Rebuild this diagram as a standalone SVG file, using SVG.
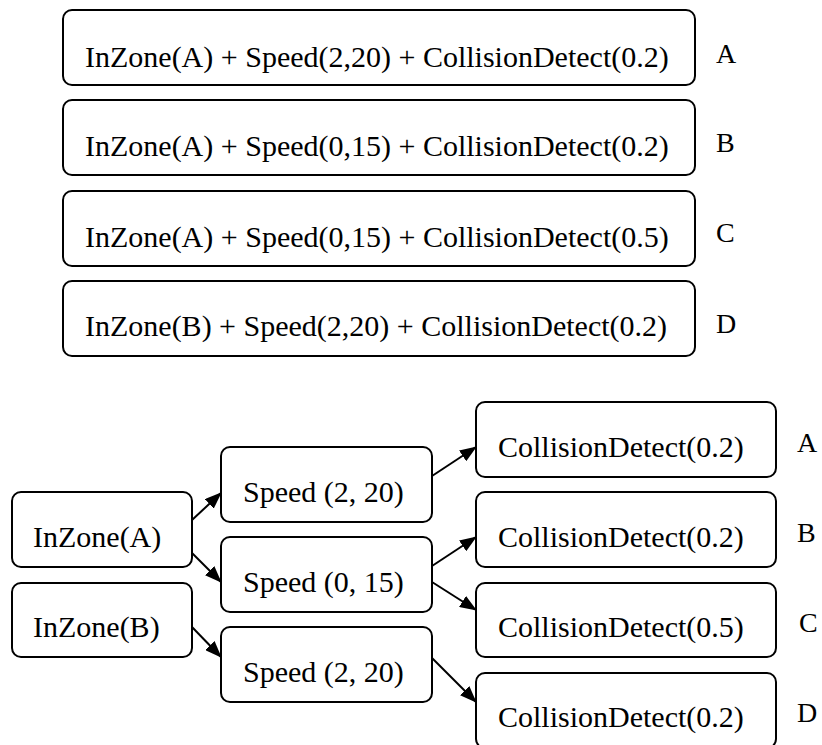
<svg xmlns="http://www.w3.org/2000/svg" width="822" height="745" viewBox="0 0 822 745">
<style>
.box{fill:#fff;stroke:#000;stroke-width:2}
.t{font-size:30px;fill:#000}
.lbl{font-size:28px;fill:#000}
.c{stroke:#000;stroke-width:2;fill:none;marker-end:url(#ah)}
</style>
<defs>
<marker id="ah" markerUnits="userSpaceOnUse" markerWidth="17" markerHeight="13" viewBox="0 0 17 13" refX="16" refY="6.5" orient="auto">
<path d="M0,0 L17,6.5 L0,13 z" fill="#000"/>
</marker>
</defs>
<g font-family="Liberation Serif, Times New Roman, Tinos, serif">
<g id="top-A"><rect class="box" x="63" y="10" width="632" height="75" rx="9"/><text class="t" x="85" y="67">InZone(A) + Speed(2,20) + CollisionDetect(0.2)</text></g>
<g id="top-B"><rect class="box" x="63" y="100" width="632" height="75" rx="9"/><text class="t" x="85" y="156">InZone(A) + Speed(0,15) + CollisionDetect(0.2)</text></g>
<g id="top-C"><rect class="box" x="63" y="191" width="632" height="75" rx="9"/><text class="t" x="85" y="247">InZone(A) + Speed(0,15) + CollisionDetect(0.5)</text></g>
<g id="top-D"><rect class="box" x="63" y="281" width="632" height="75" rx="9"/><text class="t" x="85" y="336">InZone(B) + Speed(2,20) + CollisionDetect(0.2)</text></g>
<g id="labels-top">
<text class="lbl" x="716" y="63">A</text>
<text class="lbl" x="716" y="152">B</text>
<text class="lbl" x="716" y="242">C</text>
<text class="lbl" x="716" y="333">D</text>
</g>
<g id="inzoneA"><rect class="box" x="12" y="492" width="180" height="75" rx="9"/><text class="t" x="33" y="547">InZone(A)</text></g>
<g id="inzoneB"><rect class="box" x="12" y="583" width="180" height="74" rx="9"/><text class="t" x="33" y="637">InZone(B)</text></g>
<g id="speed1"><rect class="box" x="221" y="447" width="211" height="75" rx="9"/><text class="t" x="243" y="502">Speed (2, 20)</text></g>
<g id="speed2"><rect class="box" x="221" y="537" width="211" height="75" rx="9"/><text class="t" x="243" y="592">Speed (0, 15)</text></g>
<g id="speed3"><rect class="box" x="221" y="627" width="211" height="75" rx="9"/><text class="t" x="243" y="682">Speed (2, 20)</text></g>
<g id="cd1"><rect class="box" x="476" y="402" width="300" height="75" rx="9"/><text class="t" x="498" y="457">CollisionDetect(0.2)</text></g>
<g id="cd2"><rect class="box" x="476" y="492" width="300" height="75" rx="9"/><text class="t" x="498" y="547">CollisionDetect(0.2)</text></g>
<g id="cd3"><rect class="box" x="476" y="583" width="300" height="74" rx="9"/><text class="t" x="498" y="637">CollisionDetect(0.5)</text></g>
<g id="cd4"><rect class="box" x="476" y="673" width="300" height="75" rx="9"/><text class="t" x="498" y="727">CollisionDetect(0.2)</text></g>
<g id="labels-bottom">
<text class="lbl" x="797" y="452">A</text>
<text class="lbl" x="797" y="542">B</text>
<text class="lbl" x="799" y="632">C</text>
<text class="lbl" x="797" y="722">D</text>
</g>
</g>
<g id="connectors">
<line class="c" x1="192" y1="520" x2="221" y2="493"/>
<line class="c" x1="192" y1="553" x2="221" y2="582"/>
<line class="c" x1="192" y1="627" x2="221" y2="657"/>
<line class="c" x1="432" y1="476" x2="476" y2="447"/>
<line class="c" x1="432" y1="566" x2="476" y2="537"/>
<line class="c" x1="432" y1="582" x2="476" y2="610"/>
<line class="c" x1="432" y1="658" x2="476" y2="702"/>
</g>
</svg>
